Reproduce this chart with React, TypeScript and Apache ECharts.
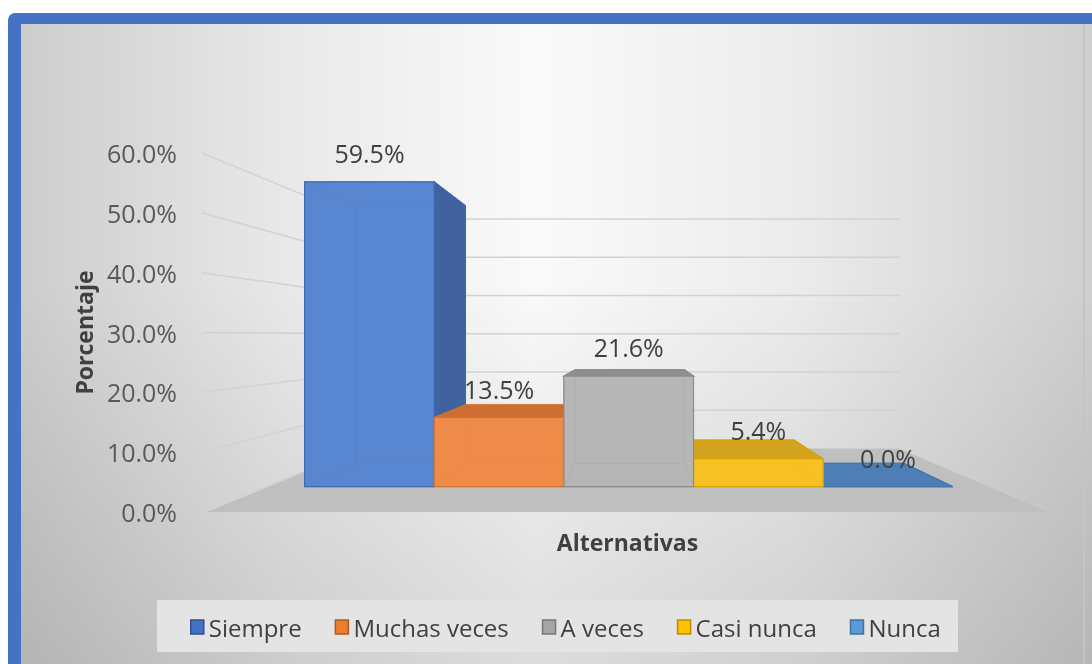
import React, { useEffect, useRef } from "react";
import * as echarts from "echarts";

// ---------- data ----------
const CATEGORIES = ["Siempre", "Muchas veces", "A veces", "Casi nunca", "Nunca"];
const VALUES = [59.5, 13.5, 21.6, 5.4, 0.0];
const Y_TICKS = [0, 10, 20, 30, 40, 50, 60];
const Y_TITLE = "Porcentaje";
const X_TITLE = "Alternativas";

// ---------- styles ----------
const STYLES = [
  { legend: "#4472C4", legendBorder: "#2F528F", front: "#5A86D0", side: "#40629F", top: "#5079C2", edge: "#3F66AE" },
  { legend: "#ED7D31", legendBorder: "#AE5A21", front: "#EF8B4A", side: "#C56A2E", top: "#CD6E32", edge: "#D4702E" },
  { legend: "#A5A5A5", legendBorder: "#787878", front: "#B5B5B5", side: "#8E8E8E", top: "#8F8F8F", edge: "#8A8A8A" },
  { legend: "#FFC000", legendBorder: "#BC8C00", front: "#F8C124", side: "#D0A01C", top: "#D3A31E", edge: "#D9A400" },
  { legend: "#5B9BD5", legendBorder: "#41719C", front: "#5B8FC8", side: "#41719C", top: "#4D7FB6", edge: "#4677AE" },
];

const FONT = "'Open Sans', 'Noto Sans', sans-serif";
const VPX = 636; // vanishing point
const VPY = 336;
const S_FRONT = 0.856;
const S_BACK = 0.724;
const S_WALL = 0.64;
const FLOOR_PAD = 42;

const proj = (x: number, y: number, s: number) => [VPX + s * (x - VPX), VPY + s * (y - VPY)];

function barRenderer(st: any) {
  return (params: any, api: any) => {
    const cat = api.value(0);
    const v = api.value(1);
    const pTop = api.coord([cat, v]);
    const pBot = api.coord([cat, 0]);
    const bw = api.size([1, 0])[0];
    const x0 = pTop[0] - bw / 2;
    const x1 = pTop[0] + bw / 2;
    const yT = pTop[1];
    const yB = pBot[1];
    const F = (x: number, y: number) => proj(x, y, S_FRONT);
    const B = (x: number, y: number) => proj(x, y, S_BACK);
    const faces = {
      back: [B(x0, yT), B(x1, yT), B(x1, yB), B(x0, yB)],
      left: [F(x0, yT), B(x0, yT), B(x0, yB), F(x0, yB)],
      right: [F(x1, yT), B(x1, yT), B(x1, yB), F(x1, yB)],
      top: [F(x0, yT), F(x1, yT), B(x1, yT), B(x0, yT)],
      bottom: [F(x0, yB), F(x1, yB), B(x1, yB), B(x0, yB)],
      front: [F(x0, yT), F(x1, yT), F(x1, yB), F(x0, yB)],
    };
    const vis = {
      left: x0 > VPX,
      right: x1 < VPX,
      top: yT > VPY,
      bottom: yB < VPY,
    };
    const hidden: any[] = [];
    const shown: any[] = [];
    const poly = (pts: number[][], fill: string, lw = 1) => ({
      type: "polygon",
      shape: { points: pts },
      style: { fill, stroke: st.edge, lineWidth: lw },
    });
    hidden.push(poly(faces.back, st.front));
    (["bottom", "left", "right", "top"] as const).forEach((k) => {
      if (vis[k]) shown.push(poly(faces[k], k === "top" ? st.top : st.side, 1.2));
      else hidden.push(poly(faces[k], st.front));
    });
    const front = {
      type: "polygon",
      shape: { points: faces.front },
      style: { fill: st.front, opacity: 0.87, stroke: st.edge, lineWidth: 1.2 },
    };
    const ft = F(pTop[0], yT);
    const label = {
      type: "text",
      x: ft[0],
      y: ft[1] - 29,
      z2: 100,
      style: {
        text: v.toFixed(1) + "%",
        fill: "#404040",
        fontSize: 25,
        fontFamily: FONT,
        align: "center",
        verticalAlign: "middle",
      },
    };
    return { type: "group", children: [...hidden, ...shown, front, label] };
  };
}

function wallRenderer(params: any, api: any) {
  const v = api.value(1);
  const y = api.coord([0, v])[1];
  const cs = params.coordSys;
  const xl = cs.x - FLOOR_PAD;
  const xr = cs.x + cs.width + FLOOR_PAD;
  const a = [xl - 5, y];
  const b = proj(xl, y, S_WALL);
  const c = proj(xr, y, S_WALL);
  return {
    type: "polyline",
    shape: { points: [a, b, c] },
    style: { stroke: "#D2D2D2", lineWidth: 1.5, fill: "none" },
  };
}

function floorRenderer(params: any, api: any) {
  const y = api.coord([0, 0])[1];
  const cs = params.coordSys;
  const xl = cs.x - FLOOR_PAD;
  const xr = cs.x + cs.width + FLOOR_PAD;
  return {
    type: "polygon",
    shape: { points: [[xl, y], [xr, y], proj(xr, y, S_WALL), proj(xl, y, S_WALL)] },
    style: { fill: "#BFBFBF" },
  };
}

export default function App() {
  const ref = useRef<HTMLDivElement>(null);
  useEffect(() => {
    if (!ref.current) return;
    const chart = echarts.init(ref.current, null, { renderer: "svg" });
    const mid = (CATEGORIES.length - 1) / 2;
    const option: any = {
      animation: false,
      graphic: [
        { type: "rect", z: -10, silent: true, shape: { x: 8, y: 13, width: 1100, height: 700, r: [7, 0, 0, 0] }, style: { fill: "#4472C4" } },
        {
          type: "rect", z: -9, silent: true,
          shape: { x: 21, y: 24, width: 1071, height: 640 },
          style: {
            fill: new echarts.graphic.LinearGradient(0, 0, 1, 0, [
              { offset: 0, color: "#CDCDCD" },
              { offset: 0.25, color: "#E9E9E9" },
              { offset: 0.48, color: "#FAFAFA" },
              { offset: 0.72, color: "#ECECEC" },
              { offset: 1, color: "#CFCFCF" },
            ]),
          },
        },
        {
          type: "rect", z: -8, silent: true,
          shape: { x: 21, y: 24, width: 1071, height: 640 },
          style: {
            fill: new echarts.graphic.LinearGradient(0, 0, 0, 1, [
              { offset: 0, color: "rgba(0,0,0,0)" },
              { offset: 0.4, color: "rgba(0,0,0,0)" },
              { offset: 1, color: "rgba(0,0,0,0.12)" },
            ]),
          },
        },
        { type: "line", z: -7, silent: true, shape: { x1: 1084, y1: 24, x2: 1084, y2: 664 }, style: { stroke: "#C4C4C4", lineWidth: 2 } },
        { type: "rect", z: -6, silent: true, shape: { x: 157, y: 600, width: 801, height: 52 }, style: { fill: "#E4E4E4" } },
      ],
      grid: { left: 249, right: 86, top: 153, bottom: 152 },
      xAxis: {
        type: "category",
        data: CATEGORIES,
        axisLabel: { show: false },
        axisTick: { show: false },
        axisLine: { show: false },
        splitLine: { show: false },
        name: X_TITLE,
        nameLocation: "middle",
        nameGap: 18,
        nameTextStyle: { fontWeight: "bold", fontSize: 23, color: "#404040", fontFamily: FONT },
      },
      yAxis: {
        type: "value",
        min: 0,
        max: 60,
        interval: 10,
        axisLine: { show: false },
        axisTick: { show: false },
        splitLine: { show: false },
        axisLabel: {
          margin: 72,
          fontSize: 25,
          color: "#595959",
          fontFamily: FONT,
          formatter: (v: number) => v.toFixed(1) + "%",
        },
        name: Y_TITLE,
        nameLocation: "middle",
        nameRotate: 90,
        nameGap: 149,
        nameTextStyle: { fontWeight: "bold", fontSize: 23, color: "#404040", fontFamily: FONT },
      },
      legend: {
        data: CATEGORIES.map((n, i) => ({
          name: n,
          icon: "rect",
          itemStyle: { color: STYLES[i].legend, borderColor: STYLES[i].legendBorder, borderWidth: 1.5 },
        })),
        left: 185,
        top: 609,
        itemWidth: 13,
        itemHeight: 14,
        itemGap: 33,
        selectedMode: false,
        textStyle: { fontFamily: FONT, fontSize: 24, color: "#404040", lineHeight: 26 },
      },
      series: [
        {
          type: "custom",
          name: "walls",
          z: 1,
          silent: true,
          data: Y_TICKS.map((t) => [0, t]),
          encode: { x: 0, y: 1 },
          renderItem: wallRenderer,
        },
        {
          type: "custom",
          name: "floor",
          z: 2,
          silent: true,
          data: [[0, 0]],
          encode: { x: 0, y: 1 },
          renderItem: floorRenderer,
        },
        ...CATEGORIES.map((name, i) => ({
          type: "custom",
          name,
          z: 10 - Math.abs(i - mid),
          data: [[i, VALUES[i]]],
          encode: { x: 0, y: 1 },
          itemStyle: { color: STYLES[i].legend },
          renderItem: barRenderer(STYLES[i]),
        })),
      ],
    };
    chart.setOption(option);
    return () => chart.dispose();
  }, []);
  return <div ref={ref} style={{ position: "fixed", left: 0, top: 0, width: 1092, height: 664 }} />;
}
